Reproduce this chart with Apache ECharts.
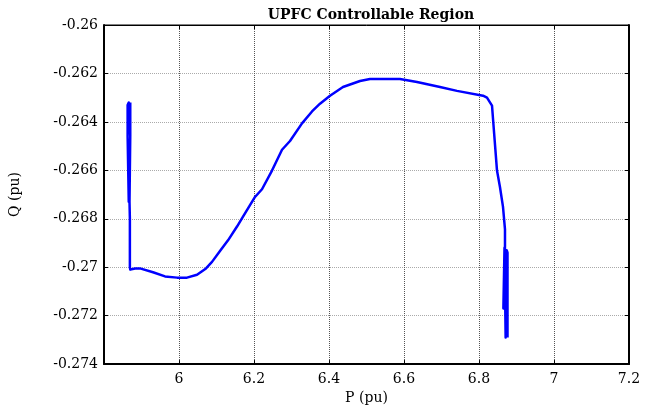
<!DOCTYPE html>
<html>
<head>
<meta charset="utf-8">
<script src="https://cdn.jsdelivr.net/npm/echarts@6/dist/echarts.min.js"></script>
<style>html,body{margin:0;padding:0;background:#fff}#c{width:654px;height:410px}</style>
</head>
<body>
<div id="c"></div>
<script>
// Traced trajectory (P, Q) of the UPFC controllable region
var pValues = [
  5.870, 5.870, 5.866, 5.863, 5.863, 5.866, 5.866, 5.870, 5.870, 5.868, 5.868, 5.869, 5.869, 5.870,
  5.872, 5.8827, 5.896, 5.9307, 5.9627, 5.9947, 6.0213, 6.048, 6.072, 6.088, 6.1093,
  6.1307, 6.1547, 6.1707, 6.2027, 6.2213, 6.248, 6.2747, 6.296, 6.328, 6.3547, 6.376,
  6.4027, 6.4373, 6.4827, 6.5093, 6.5893, 6.6347, 6.696, 6.7413, 6.8107, 6.8213, 6.8347,
  6.8373, 6.848, 6.856, 6.864, 6.8693, 6.8693,
  6.865, 6.865, 6.868, 6.868, 6.871, 6.871, 6.874, 6.874, 6.876, 6.876, 6.877
];
var qValues = [
  -0.2632, -0.2646, -0.2632, -0.2633, -0.2646, -0.2646, -0.2673, -0.2673, -0.2646, -0.2646, -0.2673, -0.2680, -0.2700, -0.2701,
  -0.27015, -0.27005, -0.27005, -0.27021, -0.27038, -0.27043, -0.27043, -0.27031, -0.27005, -0.26978, -0.26933,
  -0.26889, -0.26832, -0.26791, -0.26710, -0.26678, -0.26601, -0.26515, -0.26479, -0.26406, -0.26357, -0.26325,
  -0.26292, -0.26256, -0.26231, -0.26223, -0.26223, -0.26235, -0.26256, -0.26272, -0.26292, -0.26300, -0.26333,
  -0.26386, -0.26601, -0.26670, -0.26751, -0.26844, -0.26913,
  -0.2692, -0.2717, -0.2717, -0.2692, -0.2692, -0.2729, -0.2729, -0.2693, -0.2694, -0.2729, -0.2729
];
var xTicks = [5.8, 6, 6.2, 6.4, 6.6, 6.8, 7, 7.2];
var yTicks = [-0.274, -0.272, -0.27, -0.268, -0.266, -0.264, -0.262, -0.26];
var titleText = 'UPFC Controllable Region';
var xName = 'P (pu)';
var yName = 'Q (pu)';

var data = pValues.map(function (p, i) { return [p, qValues[i]]; });
var FONT = 'DejaVu Serif';
function fmt(v) { return String(parseFloat(v.toFixed(4))); }

var chart = echarts.init(document.getElementById('c'));
chart.setOption({
  animation: false,
  backgroundColor: '#fff',
  title: {
    text: titleText, left: 366, top: 3, textAlign: 'center',
    textStyle: { fontFamily: FONT, fontWeight: 'bold', fontSize: 14, color: '#000' }
  },
  grid: { left: 104, right: 25, top: 25, bottom: 40, show: true, borderColor: '#000', borderWidth: 1 },
  xAxis: [{
    type: 'value', min: xTicks[0], max: xTicks[xTicks.length - 1], interval: 0.2,
    name: xName, nameLocation: 'middle', nameGap: 25,
    nameTextStyle: { fontFamily: FONT, fontSize: 14, color: '#000' },
    axisLine: { show: true, lineStyle: { color: '#000', width: 2 } },
    axisTick: { show: true, inside: true, length: 4, lineStyle: { color: '#000' } },
    axisLabel: { showMinLabel: false, fontFamily: FONT, fontSize: 14, color: '#000', margin: 8, formatter: fmt },
    splitLine: { show: true, lineStyle: { color: '#555', type: [1, 1], width: 1 } }
  }, {
    type: 'value', position: 'top', min: xTicks[0], max: xTicks[xTicks.length - 1], interval: 0.2,
    axisLine: { show: true, lineStyle: { color: '#000', width: 1 } },
    axisTick: { show: true, inside: true, length: 4, lineStyle: { color: '#000' } },
    axisLabel: { show: false }, splitLine: { show: false }
  }],
  yAxis: [{
    type: 'value', min: yTicks[0], max: yTicks[yTicks.length - 1], interval: 0.002,
    name: yName, nameLocation: 'middle', nameGap: 82, nameRotate: 90,
    nameTextStyle: { fontFamily: FONT, fontSize: 14, color: '#000' },
    axisLine: { show: true, lineStyle: { color: '#000', width: 2 } },
    axisTick: { show: true, inside: true, length: 4, lineStyle: { color: '#000' } },
    axisLabel: { fontFamily: FONT, fontSize: 14, color: '#000', margin: 6, formatter: fmt },
    splitLine: { show: true, lineStyle: { color: '#aaa', type: [1, 1], width: 1 } }
  }, {
    type: 'value', position: 'right', min: yTicks[0], max: yTicks[yTicks.length - 1], interval: 0.002,
    axisLine: { show: true, lineStyle: { color: '#000', width: 2 } },
    axisTick: { show: true, inside: true, length: 4, lineStyle: { color: '#000' } },
    axisLabel: { show: false }, splitLine: { show: false }
  }],
  series: [{
    type: 'line', data: data, showSymbol: false, symbol: 'none',
    lineStyle: { color: '#0000ff', width: 2.5, join: 'round' },
    xAxisIndex: 0, yAxisIndex: 0
  }]
});
</script>
</body>
</html>
